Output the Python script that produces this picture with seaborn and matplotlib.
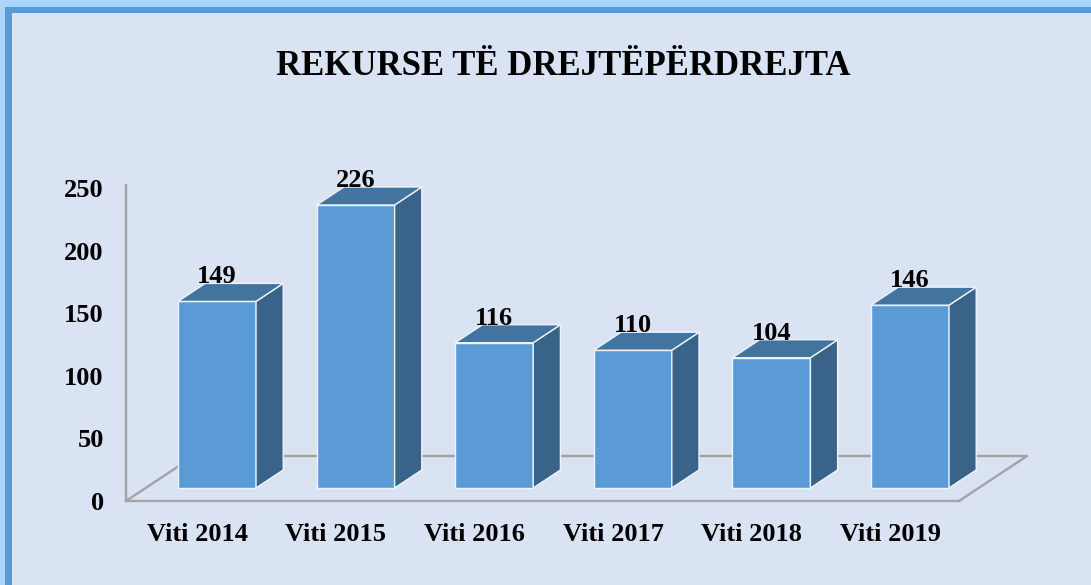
import numpy as np
import pandas as pd
import matplotlib
matplotlib.use("Agg")
import matplotlib.pyplot as plt
from matplotlib.patches import Polygon, Rectangle
import seaborn as sns

# ---- data ----
categories = ["Viti 2014", "Viti 2015", "Viti 2016", "Viti 2017", "Viti 2018", "Viti 2019"]
values = [149, 226, 116, 110, 104, 146]
y_ticks = [0, 50, 100, 150, 200, 250]
title = "REKURSE TË DREJTËPËRDREJTA"

# ---- style ----
W, H, DPI = 1091, 585, 100
sns.set_style("white")
plt.rcParams["font.family"] = ["Liberation Serif", "DejaVu Serif"]
plt.rcParams["font.weight"] = "bold"

FRONT = "#5b9bd5"
TOP = "#4374a0"
SIDE = "#3a6389"
EDGE = "#eef4fb"
FLOOR = "#a3a3a3"
BG = "#dae3f3"
BORDER = "#5b9bd5"
OUTER = "#a9d5fb"
FS = 19

# pixel mapping of the front plane
X_PX0, X_PX_PER = 197.3, 138.6
Y_PX0, Y_PX_PER = 501.0, 1.252
DEPTH_DX = 68 / X_PX_PER      # floor depth vector in data units
DEPTH_DY = 45 / Y_PX_PER
BAR_FRONT, BAR_BACK = 0.29, 0.69
BAR_W = 78 / X_PX_PER
FLOOR_X0 = (126 - X_PX0) / X_PX_PER
FLOOR_X1 = (959 - X_PX0) / X_PX_PER
AXIS_TOP = (Y_PX0 - 185) / Y_PX_PER

fig = plt.figure(figsize=(W / DPI, H / DPI), dpi=DPI, facecolor=OUTER)
fig.add_artist(Rectangle((5 / W, -0.1), 2, 1.1 - 7 / H, transform=fig.transFigure,
                         facecolor=BORDER, edgecolor="none", zorder=-10))
fig.add_artist(Rectangle((12 / W, -0.1), 2, 1.1 - 13 / H, transform=fig.transFigure,
                         facecolor=BG, edgecolor="none", zorder=-9))

ax = fig.add_axes([0, 0, 1, 1])
ax.set_facecolor("none")

df = pd.DataFrame({"year": categories, "value": values})
sns.barplot(data=df, x="year", y="value", color=FRONT, saturation=1, width=BAR_W,
            edgecolor=EDGE, linewidth=1.0, ax=ax, zorder=3)

ax.set_xlim((0 - X_PX0) / X_PX_PER, (W - X_PX0) / X_PX_PER)
ax.set_ylim((Y_PX0 - H) / Y_PX_PER, Y_PX0 / Y_PX_PER)

# floor outline
fx = [FLOOR_X0, FLOOR_X0 + DEPTH_DX, FLOOR_X1 + DEPTH_DX, FLOOR_X1]
fy = [0, DEPTH_DY, DEPTH_DY, 0]
ax.plot(fx, fy, color=FLOOR, lw=1.7, zorder=1, solid_capstyle="butt")

# 3D faces
ddx = (BAR_BACK - BAR_FRONT) * DEPTH_DX
ddy = (BAR_BACK - BAR_FRONT) * DEPTH_DY
for p, v in zip(list(ax.patches), values):
    p.set_x(p.get_x() + BAR_FRONT * DEPTH_DX)
    p.set_y(BAR_FRONT * DEPTH_DY)
    x, w, b, h = p.get_x(), p.get_width(), p.get_y(), p.get_height()
    side = Polygon([(x + w, b), (x + w + ddx, b + ddy), (x + w + ddx, b + h + ddy), (x + w, b + h)],
                   closed=True, facecolor=SIDE, edgecolor=EDGE, lw=1.0, zorder=3)
    top = Polygon([(x, b + h), (x + w, b + h), (x + w + ddx, b + h + ddy), (x + ddx, b + h + ddy)],
                  closed=True, facecolor=TOP, edgecolor=EDGE, lw=1.0, zorder=3)
    ax.add_patch(side)
    ax.add_patch(top)
    ax.text(x + w / 2, b + h + ddy, f"{v}", ha="center", va="baseline",
            fontsize=FS, fontweight="bold", color="black", zorder=5)

# axes lines
for s in ["top", "right"]:
    ax.spines[s].set_visible(False)
ax.spines["left"].set_position(("data", FLOOR_X0))
ax.spines["left"].set_bounds(0, AXIS_TOP)
ax.spines["bottom"].set_position(("data", 0))
ax.spines["bottom"].set_bounds(FLOOR_X0, FLOOR_X1)
for s in ["left", "bottom"]:
    ax.spines[s].set_color(FLOOR)
    ax.spines[s].set_linewidth(1.7)

ax.set_yticks(y_ticks)
ax.set_yticklabels([str(t) for t in y_ticks])
ax.tick_params(axis="y", length=0, pad=16, labelsize=FS, labelcolor="black")
ax.tick_params(axis="x", length=0, pad=16, labelsize=FS, labelcolor="black")
ax.set_xlabel("")
ax.set_ylabel("")

fig.text(563.5 / W, 1 - 75 / H, title, ha="center", va="baseline",
         fontsize=25, fontweight="bold", color="black")

fig.savefig("out.png", dpi=DPI, facecolor=OUTER)
